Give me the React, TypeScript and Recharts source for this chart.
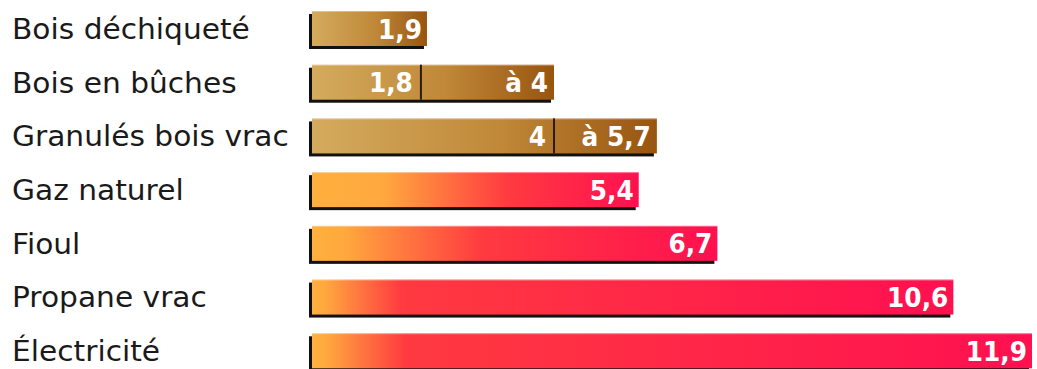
import { BarChart, Bar, XAxis, YAxis, LabelList } from "recharts";

const categories = [
  "Bois déchiqueté",
  "Bois en bûches",
  "Granulés bois vrac",
  "Gaz naturel",
  "Fioul",
  "Propane vrac",
  "Électricité",
];
// low end of the price range (or the single value)
const lowValues = [1.9, 1.8, 4, 5.4, 6.7, 10.6, 11.9];
// high end, only for the ranges
const highValues: (number | null)[] = [null, 4, 5.7, null, null, null, null];
const groups = ["bois", "bois", "bois", "fossile", "fossile", "fossile", "fossile"];

const rows = categories.map((name, i) => ({
  name,
  low: lowValues[i],
  high: highValues[i],
  total: highValues[i] ?? lowValues[i],
  group: groups[i],
}));

// where orange turns red on each fossil bar (fraction of bar length)
const redStops: Record<number, [number, number]> = {
  3: [0.22, 0.6],
  4: [0.08, 0.42],
  5: [0.02, 0.14],
  6: [0.02, 0.13],
};

const fmt = (v: number) => String(v).replace(".", ",");

function EnergyBar(props: any) {
  const { x, y, width, height, payload, index } = props;
  const id = `grad-${index}`;
  const split =
    payload.high != null ? x + (width * payload.low) / payload.high : null;
  const stops = redStops[index] ?? [0.1, 0.3];
  return (
    <g>
      <defs>
        {payload.group === "bois" ? (
          <linearGradient id={id} x1="0" y1="0" x2="1" y2="0">
            <stop offset="0" stopColor="#d4ab5e" />
            <stop offset="0.55" stopColor="#c08838" />
            <stop offset="1" stopColor="#985510" />
          </linearGradient>
        ) : (
          <linearGradient id={id} x1="0" y1="0" x2="1" y2="0">
            <stop offset="0" stopColor="#ffb03e" />
            <stop offset={stops[0]} stopColor="#ffa83e" />
            <stop offset={stops[1]} stopColor="#ff3a40" />
            <stop offset="1" stopColor="#ff1050" />
          </linearGradient>
        )}
      </defs>
      <rect x={x - 3} y={y + 3} width={width} height={height} fill="#111" />
      <rect x={x} y={y} width={width} height={height} fill={`url(#${id})`} />
      <rect x={x} y={y} width={width} height={1} fill="#fff" opacity={0.35} />
      {split != null && (
        <rect x={split - 1} y={y} width={2} height={height} fill="#2b1a06" />
      )}
    </g>
  );
}

function ValueLabels(props: any) {
  const { x, y, width, height, index } = props;
  const row = rows[index];
  const base = y + height / 2 + 10;
  const style = {
    fontFamily: "DejaVu Sans, Verdana, sans-serif",
    fontWeight: 700,
    fontSize: 27,
    fill: "#fff",
  };
  const put = (right: number, text: string) => (
    <text
      transform={`translate(${right},${base}) scale(0.92,1)`}
      textAnchor="end"
      style={style}
    >
      {text}
    </text>
  );
  if (row.high == null) return <g>{put(x + width - 5, fmt(row.low))}</g>;
  const split = x + (width * row.low) / row.high;
  return (
    <g>
      {put(split - 8, fmt(row.low))}
      {put(x + width - 6, "à " + fmt(row.high))}
    </g>
  );
}

function CategoryTick(props: any) {
  const { y, payload } = props;
  return (
    <text
      transform={`translate(12,${y + 10}) scale(1.06,1)`}
      textAnchor="start"
      style={{ fontFamily: "DejaVu Sans, Verdana, sans-serif", fontSize: 28, fill: "#1a1a1a" }}
    >
      {payload.value}
    </text>
  );
}

export default function App() {
  return (
    <div style={{ width: 1037, height: 369, overflow: "hidden", background: "#fff" }}>
      <style>{"body{margin:0}"}</style>
      <BarChart
        width={1037}
        height={378}
        data={rows}
        layout="vertical"
        margin={{ top: 2, right: 5, left: 0, bottom: 0 }}
        barSize={35}
      >
        <XAxis type="number" domain={[0, 11.9]} hide />
        <YAxis
          type="category"
          dataKey="name"
          width={312}
          axisLine={false}
          tickLine={false}
          tick={<CategoryTick />}
          interval={0}
        />
        <Bar dataKey="total" shape={<EnergyBar />} isAnimationActive={false}>
          <LabelList dataKey="total" content={<ValueLabels />} />
        </Bar>
      </BarChart>
    </div>
  );
}
